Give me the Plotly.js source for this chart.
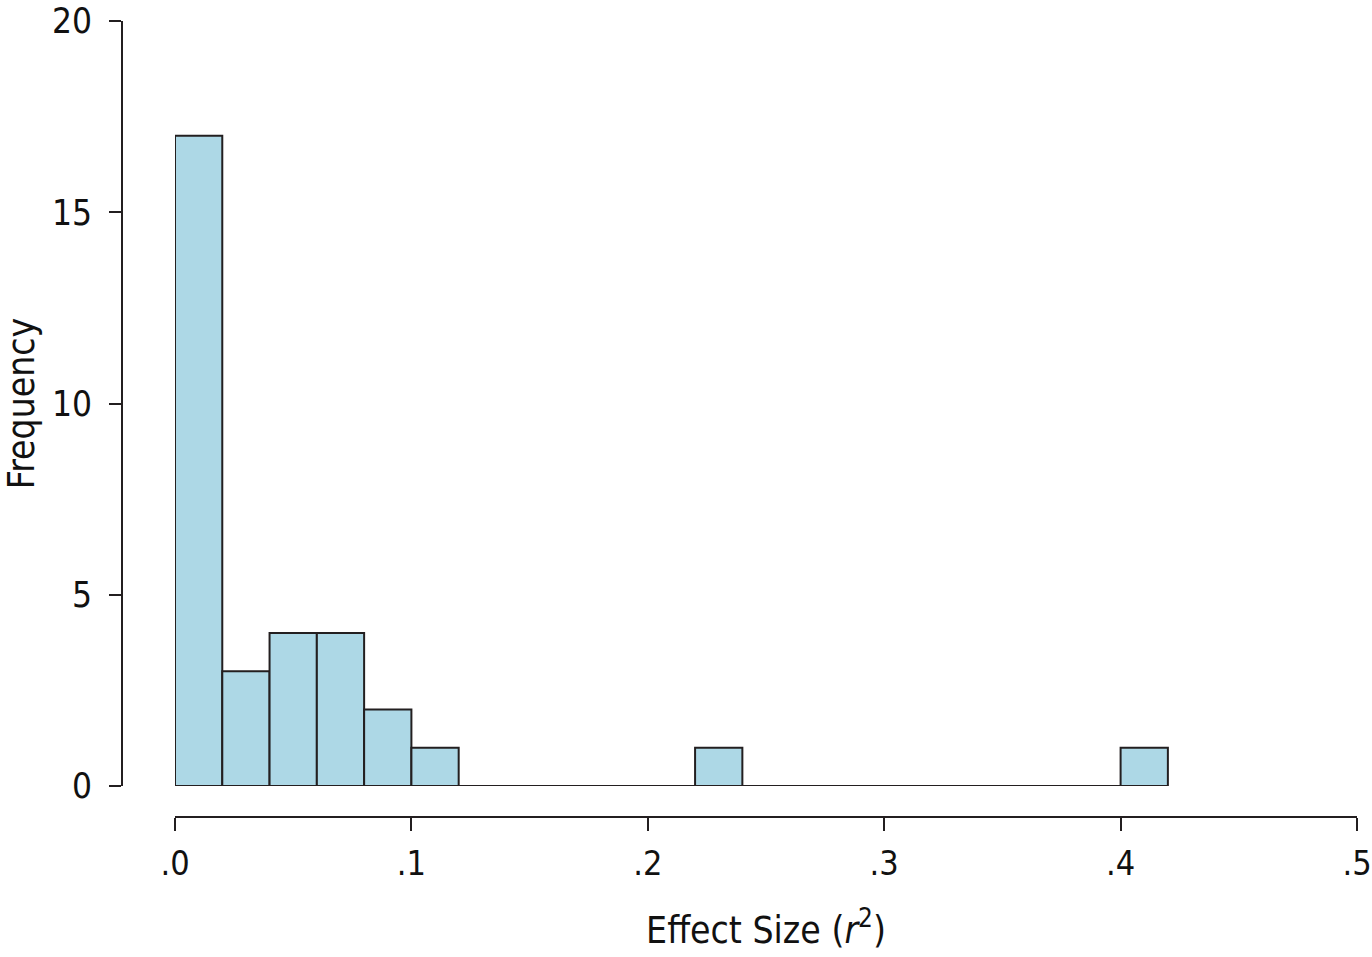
<!DOCTYPE html>
<html>
<head>
<meta charset="utf-8">
<script src="https://cdn.plot.ly/plotly-3.0.1.min.js"></script>
<style>
  html, body { margin: 0; padding: 0; background: #fff; }
  #chart { width: 1372px; height: 957px; }
</style>
</head>
<body>
<div id="chart"></div>
<script>
// histogram bins of r^2, width .02
const binStarts = [0.00, 0.02, 0.04, 0.06, 0.08, 0.10, 0.12, 0.14, 0.16, 0.18, 0.20,
                   0.22, 0.24, 0.26, 0.28, 0.30, 0.32, 0.34, 0.36, 0.38, 0.40];
const counts = [17, 3, 4, 4, 2, 1, 0, 0, 0, 0, 0, 1, 0, 0, 0, 0, 0, 0, 0, 0, 1];
const binWidth = 0.02;

const xTicks = [0, 0.1, 0.2, 0.3, 0.4, 0.5];
const xTickLabels = ['.0', '.1', '.2', '.3', '.4', '.5'];
const yTicks = [0, 5, 10, 15, 20];

const font = '"Liberation Sans Narrow", "DejaVu Sans Condensed", "Roboto Condensed", Arial, sans-serif';
const ink = '#231f20';

const W = 1372, H = 957;
const margin = { l: 122, r: 15, t: 21, b: 140 };
const plotW = W - margin.l - margin.r;
const plotH = H - margin.t - margin.b;

const centers = binStarts.map(s => s + binWidth / 2);

const bars = {
    type: 'bar',
    x: centers,
    y: counts,
    width: binWidth,
    marker: { color: '#add8e6', line: { color: ink, width: 2 } },
    hoverinfo: 'x+y',
    showlegend: false,
};

// empty bins are drawn by R as flat rectangles: a line along zero
const lastEdge = binStarts[binStarts.length - 1] + binWidth;
const baseline = {
    type: 'scatter',
    mode: 'lines',
    x: [binStarts[0], lastEdge],
    y: [0, 0],
    line: { color: ink, width: 2 },
    hoverinfo: 'skip',
    showlegend: false,
};

const layout = {
    width: W,
    height: H,
    margin: margin,
    paper_bgcolor: '#fff',
    plot_bgcolor: '#fff',
    font: { family: font, size: 34, color: '#111' },
    bargap: 0,
    showlegend: false,
    xaxis: {
        domain: [(175 - margin.l) / plotW, 1],
        range: [0, 0.5],
        anchor: 'free',
        position: 0,
        showgrid: false,
        zeroline: false,
        showline: true,
        linecolor: ink,
        linewidth: 2,
        ticks: 'outside',
        ticklen: 13,
        tickwidth: 2,
        tickcolor: ink,
        tickvals: xTicks,
        ticktext: xTickLabels,
        ticklabelstandoff: 3,
        ticklabeloverflow: 'allow',
        tickfont: { family: font, size: 34, color: '#111' },
        title: { text: 'Effect Size (<i>r</i><sup>2</sup>)', font: { family: font, size: 37, color: '#111' }, standoff: 34 },
        fixedrange: true,
    },
    yaxis: {
        domain: [(817 - 786) / plotH, 1],
        range: [0, 20],
        anchor: 'free',
        position: 0,
        showgrid: false,
        zeroline: false,
        showline: true,
        linecolor: ink,
        linewidth: 2,
        ticks: 'outside',
        ticklen: 12,
        tickwidth: 2,
        tickcolor: ink,
        tickvals: yTicks,
        ticklabelstandoff: 10,
        ticklabeloverflow: 'allow',
        tickfont: { family: font, size: 35, color: '#111' },
        title: { text: 'Frequency', font: { family: font, size: 37, color: '#111' }, standoff: 14 },
        fixedrange: true,
    },
};

Plotly.newPlot('chart', [baseline, bars], layout, { displayModeBar: false, staticPlot: true });
</script>
</body>
</html>
